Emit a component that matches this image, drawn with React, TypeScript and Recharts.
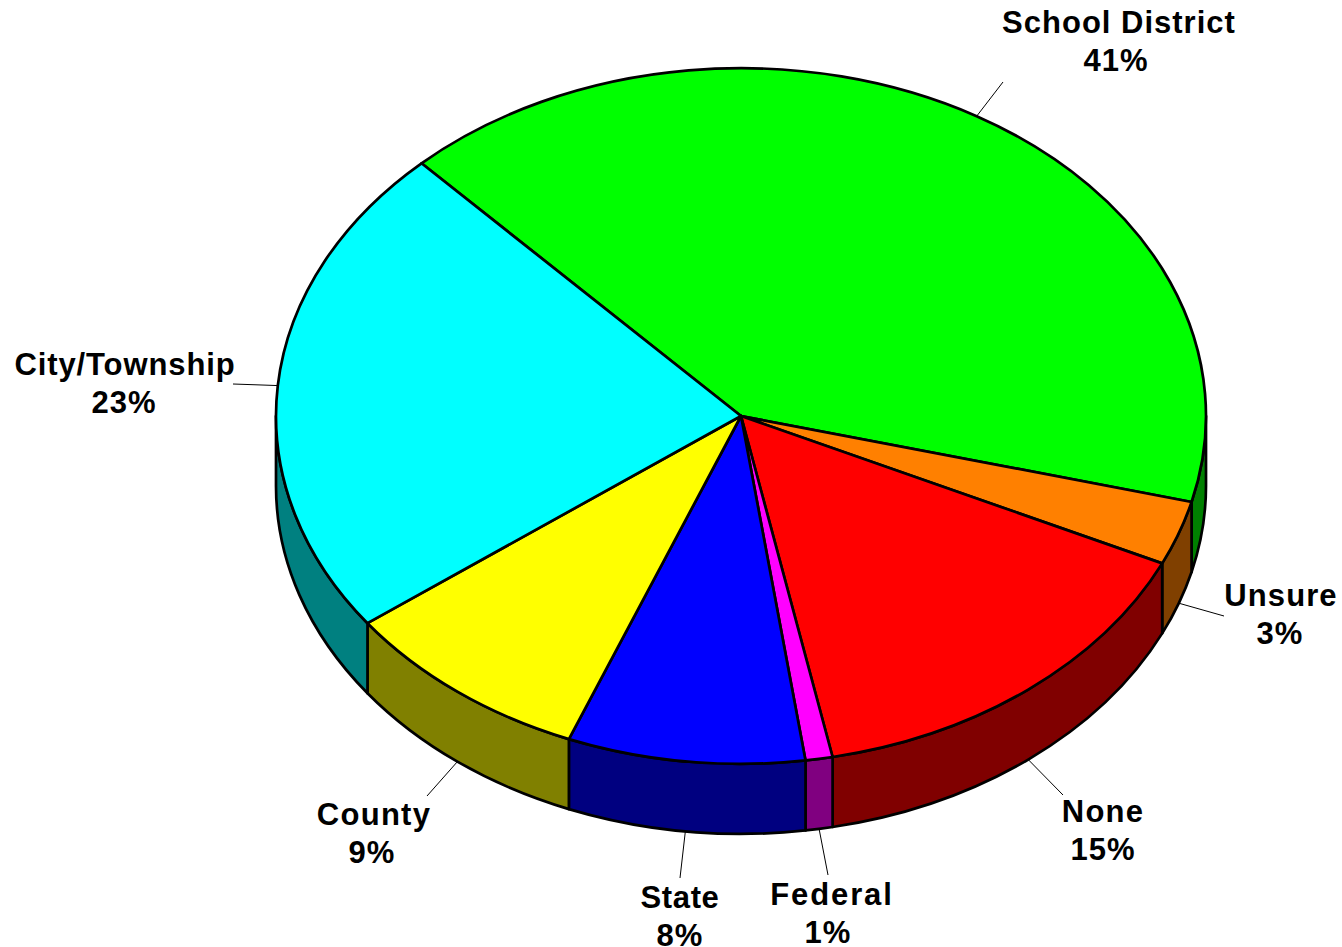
import { Pie, PieChart } from "recharts";

const categories = ["School District", "Unsure", "None", "Federal", "State", "County", "City/Township"];
// slice sizes, the printed labels are the rounded ones
const shares = [41.03, 2.99, 14.88, 0.94, 8.25, 8.81, 23.1];
const percentLabels = ["41%", "3%", "15%", "1%", "8%", "9%", "23%"];
const topColors = ["#00ff00", "#ff8000", "#ff0000", "#ff00ff", "#0000ff", "#ffff00", "#00ffff"];
const wallColors = ["#008000", "#804000", "#800000", "#800080", "#000080", "#808000", "#008080"];

// where each leader line ends and where its two text lines sit
const labelSpots: {
  [index: string]: { lineX: number; lineY: number; textX: number; textY: number; pctX: number; spacing: number };
} = {
  "School District": { lineX: 1003, lineY: 82, textX: 1119, textY: 33, pctX: 1116, spacing: 1 },
  Unsure: { lineX: 1224, lineY: 616, textX: 1281, textY: 606, pctX: 1280, spacing: 1.1 },
  None: { lineX: 1063, lineY: 795, textX: 1103, textY: 822, pctX: 1103, spacing: 1.2 },
  Federal: { lineX: 828, lineY: 875, textX: 832, textY: 905, pctX: 828, spacing: 1.9 },
  State: { lineX: 680, lineY: 878, textX: 680, textY: 908, pctX: 680, spacing: 0.6 },
  County: { lineX: 427, lineY: 796, textX: 374, textY: 825, pctX: 372, spacing: 1.3 },
  "City/Township": { lineX: 233, lineY: 384, textX: 125, textY: 375, pctX: 124, spacing: 0.9 },
};

const SQUASH = 0.748;
const DEPTH = 70;
const RAD = Math.PI / 180;

const tableData = categories.map((name, i) => ({
  name,
  value: shares[i],
  percent: percentLabels[i],
  fill: topColors[i],
  wall: wallColors[i],
}));

// recharts only knows circles, so the sector is redrawn on a tilted ellipse
const px = (cx: number, r: number, deg: number) => cx + r * Math.cos(deg * RAD);
const py = (cy: number, r: number, deg: number) => cy + r * SQUASH * Math.sin(deg * RAD);

const TiltedSector = (props: any) => {
  const { cx, cy, outerRadius: r, startAngle, endAngle, fill, payload } = props;
  const from = -startAngle;
  const to = -endAngle;
  const ry = r * SQUASH;
  const large = to - from > 180 ? 1 : 0;
  const top = `M${cx},${cy} L${px(cx, r, from)},${py(cy, r, from)} A${r},${ry} 0 ${large} 1 ${px(cx, r, to)},${py(cy, r, to)} Z`;

  const wallFrom = Math.max(from, 0);
  const wallTo = Math.min(to, 180);
  const wall =
    wallTo > wallFrom
      ? `M${px(cx, r, wallFrom)},${py(cy, r, wallFrom)} A${r},${ry} 0 0 1 ${px(cx, r, wallTo)},${py(cy, r, wallTo)} ` +
        `L${px(cx, r, wallTo)},${py(cy, r, wallTo) + DEPTH} A${r},${ry} 0 0 0 ${px(cx, r, wallFrom)},${py(cy, r, wallFrom) + DEPTH} Z`
      : null;

  return (
    <g>
      {wall && <path d={wall} fill={payload.wall} stroke="#000" strokeWidth={2.7} strokeLinejoin="round" />}
      <path d={top} fill={fill} stroke="#000" strokeWidth={2.7} strokeLinejoin="round" />
    </g>
  );
};

const TiltedLabel = (props: any) => {
  const { cx, cy, outerRadius: r, midAngle, name, payload } = props;
  const spot = labelSpots[name];
  const deg = -midAngle;
  const norm = ((deg % 360) + 360) % 360;
  const x = px(cx, r, deg);
  const y = py(cy, r, deg) + (norm < 180 ? DEPTH : 0);
  return (
    <g>
      <line x1={x} y1={y} x2={spot.lineX} y2={spot.lineY} stroke="#000" strokeWidth={1} />
      <text
        textAnchor="middle"
        fontFamily="'Liberation Sans', Arial, sans-serif"
        fontWeight={700}
        fontSize={31}
        fill="#000"
      >
        <tspan x={spot.textX} y={spot.textY} letterSpacing={spot.spacing}>
          {name}
        </tspan>
        <tspan x={spot.pctX} y={spot.textY + 38} letterSpacing={1}>
          {payload.percent}
        </tspan>
      </text>
    </g>
  );
};

const App = () => {
  return (
    <div style={{ position: "absolute", left: 0, top: 0, width: 1342, height: 947, background: "#fff" }}>
      <PieChart width={1342} height={947} margin={{ top: 0, right: 0, bottom: 0, left: 0 }}>
        <Pie
          data={tableData}
          dataKey="value"
          nameKey="name"
          cx={741}
          cy={416}
          innerRadius={0}
          outerRadius={465}
          startAngle={133.4}
          endAngle={-226.6}
          paddingAngle={0}
          shape={TiltedSector}
          label={TiltedLabel}
          labelLine={false}
          isAnimationActive={false}
        />
      </PieChart>
    </div>
  );
};

export default App;
